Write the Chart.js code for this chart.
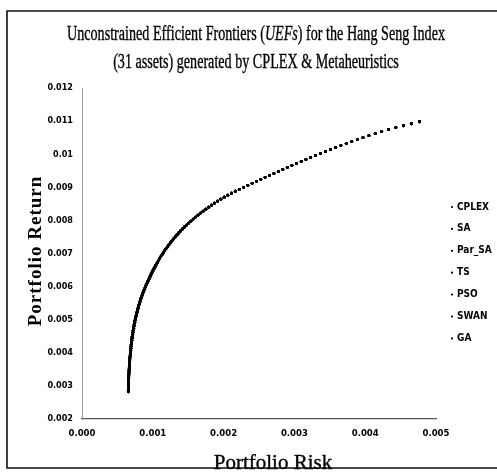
<!DOCTYPE html>
<html>
<head>
<meta charset="utf-8">
<title>Unconstrained Efficient Frontiers - Hang Seng</title>
<script src="https://cdn.jsdelivr.net/npm/chart.js@4.4.1/dist/chart.umd.min.js"></script>
<style>
  html, body { margin: 0; padding: 0; background: #fff; }
</style>
</head>
<body>
<canvas id="frontierChart" width="497" height="474"></canvas>
<script>
// Chart text
const titleLine1 = ["Unconstrained Efficient Frontiers (", "UEFs", ") for the Hang Seng Index"];
const titleLine2 = "(31 assets) generated by CPLEX & Metaheuristics";
const xAxisTitle = "Portfolio Risk";
const yAxisTitle = "Portfolio Return";

// Series names (all methods land on the same frontier)
const seriesNames = ["CPLEX", "SA", "Par_SA", "TS", "PSO", "SWAN", "GA"];

// Frontier points
const riskValues = [
  0.000654, 0.000655, 0.000655, 0.000656, 0.000657, 0.000658, 0.000659, 0.000660, 0.000661, 0.000663,
  0.000664, 0.000665, 0.000667, 0.000669, 0.000670, 0.000672, 0.000675, 0.000677, 0.000679, 0.000682,
  0.000684, 0.000687, 0.000690, 0.000693, 0.000697, 0.000700, 0.000703, 0.000707, 0.000711, 0.000715,
  0.000719, 0.000724, 0.000729, 0.000734, 0.000739, 0.000744, 0.000750, 0.000756, 0.000762, 0.000769,
  0.000776, 0.000783, 0.000791, 0.000798, 0.000807, 0.000815, 0.000824, 0.000833, 0.000843, 0.000853,
  0.000863, 0.000874, 0.000885, 0.000897, 0.000909, 0.000922, 0.000934, 0.000947, 0.000961, 0.000974,
  0.000988, 0.001002, 0.001017, 0.001032, 0.001047, 0.001063, 0.001079, 0.001096, 0.001113, 0.001130,
  0.001148, 0.001167, 0.001186, 0.001206, 0.001227, 0.001248, 0.001271, 0.001294, 0.001317, 0.001342,
  0.001367, 0.001393, 0.001421, 0.001449, 0.001478, 0.001508, 0.001539, 0.001571, 0.001604, 0.001639,
  0.001674, 0.001711, 0.001749, 0.001789, 0.001829, 0.001871, 0.001915, 0.001961, 0.002009, 0.002059,
  0.002112, 0.002166, 0.002223, 0.002282, 0.002342, 0.002403, 0.002464, 0.002525, 0.002587, 0.002649,
  0.002711, 0.002774, 0.002837, 0.002900, 0.002965, 0.003030, 0.003096, 0.003163, 0.003230, 0.003299,
  0.003368, 0.003438, 0.003509, 0.003582, 0.003657, 0.003733, 0.003810, 0.003889, 0.003969, 0.004053,
  0.004141, 0.004233, 0.004331, 0.004433, 0.004540, 0.004651, 0.004767
];
const returnValues = [
  0.00282, 0.00288, 0.00294, 0.00300, 0.00306, 0.00312, 0.00318, 0.00324, 0.00330, 0.00336,
  0.00342, 0.00348, 0.00354, 0.00360, 0.00366, 0.00372, 0.00378, 0.00384, 0.00390, 0.00396,
  0.00402, 0.00408, 0.00414, 0.00420, 0.00426, 0.00432, 0.00438, 0.00444, 0.00450, 0.00456,
  0.00462, 0.00468, 0.00474, 0.00480, 0.00486, 0.00492, 0.00498, 0.00504, 0.00510, 0.00516,
  0.00522, 0.00528, 0.00534, 0.00540, 0.00546, 0.00552, 0.00558, 0.00564, 0.00570, 0.00576,
  0.00582, 0.00588, 0.00594, 0.00600, 0.00606, 0.00612, 0.00618, 0.00624, 0.00630, 0.00636,
  0.00642, 0.00648, 0.00654, 0.00660, 0.00666, 0.00672, 0.00678, 0.00684, 0.00690, 0.00696,
  0.00702, 0.00708, 0.00714, 0.00720, 0.00726, 0.00732, 0.00738, 0.00744, 0.00750, 0.00756,
  0.00762, 0.00768, 0.00774, 0.00780, 0.00786, 0.00792, 0.00798, 0.00804, 0.00810, 0.00816,
  0.00822, 0.00828, 0.00834, 0.00840, 0.00846, 0.00852, 0.00858, 0.00864, 0.00870, 0.00876,
  0.00882, 0.00888, 0.00894, 0.00900, 0.00906, 0.00912, 0.00918, 0.00924, 0.00930, 0.00936,
  0.00942, 0.00948, 0.00954, 0.00960, 0.00966, 0.00972, 0.00978, 0.00984, 0.00990, 0.00996,
  0.01002, 0.01008, 0.01014, 0.01020, 0.01026, 0.01032, 0.01038, 0.01044, 0.01050, 0.01056,
  0.01062, 0.01068, 0.01074, 0.01080, 0.01086, 0.01092, 0.01098
];

// Axis ranges
const xMin = 0, xMax = 0.005, xStep = 0.001;
const yMin = 0.002, yMax = 0.012, yStep = 0.001;

const narrowBold = "'DejaVu Sans Condensed', 'Liberation Sans Narrow', sans-serif";
const serif = "'Liberation Serif', 'DejaVu Serif', serif";

const points = riskValues.map((r, i) => ({ x: r, y: returnValues[i] }));

// title, frame, axis titles and the legend drawn on top
const decorations = {
  id: "decorations",
  afterDraw(chart) {
    const ctx = chart.ctx;
    ctx.save();

    // outer frame (scan shows top, left and bottom edges)
    ctx.strokeStyle = "#111";
    ctx.lineWidth = 1.6;
    ctx.beginPath();
    ctx.moveTo(497, 11);
    ctx.lineTo(7, 11);
    ctx.lineTo(7, 468);
    ctx.lineTo(497, 468);
    ctx.stroke();

    // title, two lines, condensed serif squeezed to the scan's width
    ctx.fillStyle = "#000";
    ctx.strokeStyle = "#000";
    ctx.lineWidth = 0.35;
    ctx.textBaseline = "middle";
    ctx.textAlign = "left";
    const normal = "20px " + serif;
    const italic = "italic 20px " + serif;
    ctx.font = normal;
    let w = ctx.measureText(titleLine1[0]).width + ctx.measureText(titleLine1[2]).width;
    ctx.font = italic;
    w += ctx.measureText(titleLine1[1]).width;
    const sx = 378 / w;
    ctx.save();
    ctx.translate(256, 35);
    ctx.scale(sx, 1);
    let x = -w / 2;
    titleLine1.forEach((part, i) => {
      ctx.font = i === 1 ? italic : normal;
      ctx.fillText(part, x, 0);
      ctx.strokeText(part, x, 0);
      x += ctx.measureText(part).width;
    });
    ctx.restore();

    ctx.save();
    ctx.translate(256, 63);
    ctx.scale(sx, 1);
    ctx.font = normal;
    ctx.textAlign = "center";
    ctx.fillText(titleLine2, 0, 0);
    ctx.strokeText(titleLine2, 0, 0);
    ctx.restore();

    // y axis title
    ctx.save();
    ctx.translate(36, 251);
    ctx.rotate(-Math.PI / 2);
    ctx.font = "bold 19px " + serif;
    ctx.letterSpacing = "1px";
    ctx.textAlign = "center";
    ctx.fillText(yAxisTitle, 0, 0);
    ctx.restore();

    // x axis title
    ctx.save();
    ctx.font = "21px " + serif;
    ctx.textAlign = "center";
    ctx.textBaseline = "alphabetic";
    ctx.fillText(xAxisTitle, 273, 469);
    ctx.strokeText(xAxisTitle, 273, 469);
    ctx.restore();

    // legend
    ctx.font = "bold 10px " + narrowBold;
    ctx.textAlign = "left";
    ctx.textBaseline = "middle";
    chart.data.datasets.forEach((ds, i) => {
      const ly = 207 + i * 21.9;
      ctx.beginPath();
      ctx.arc(452, ly, 1.1, 0, Math.PI * 2);
      ctx.fill();
      ctx.fillText(ds.label, 457, ly);
    });

    ctx.restore();
  }
};

new Chart(document.getElementById("frontierChart"), {
  type: "scatter",
  data: {
    datasets: seriesNames.map(name => ({
      label: name,
      data: points,
      backgroundColor: "#000",
      borderColor: "#000",
      pointRadius: 1.4,
      pointBorderWidth: 0,
      showLine: false
    }))
  },
  options: {
    responsive: false,
    animation: false,
    devicePixelRatio: 1,
    layout: { padding: { left: 0, top: 88, right: 61, bottom: 0 } },
    plugins: {
      legend: { display: false },
      title: { display: false },
      tooltip: { enabled: false }
    },
    scales: {
      x: {
        type: "linear",
        min: xMin,
        max: xMax,
        afterFit: scale => { scale.height = 55; },
        ticks: {
          stepSize: xStep,
          padding: 9,
          color: "#000",
          font: { family: narrowBold, size: 9.5, weight: "bold" },
          callback: v => v.toFixed(3)
        },
        grid: { display: false, drawTicks: false },
        border: { display: true, color: "#555", width: 1.2, dash: [4, 1] }
      },
      y: {
        type: "linear",
        min: yMin,
        max: yMax,
        afterFit: scale => { scale.width = 82; },
        ticks: {
          stepSize: yStep,
          padding: 9,
          color: "#000",
          font: { family: narrowBold, size: 9, weight: "bold" },
          callback: v => String(Number(v.toFixed(3)))
        },
        grid: { display: false, drawTicks: false },
        border: { display: true, color: "#999", width: 1, dash: [3, 2] }
      }
    }
  },
  plugins: [decorations]
});
</script>
</body>
</html>
